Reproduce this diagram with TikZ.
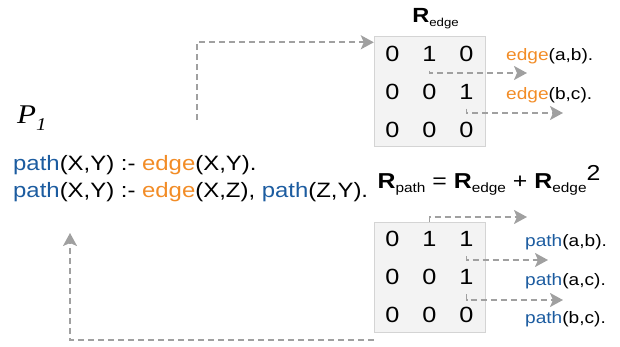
\documentclass[tikz,border=0pt]{standalone}
\usepackage{fontspec}
\setmainfont{Liberation Sans}[FakeStretch=1.15]
\newfontfamily\progfont{Liberation Serif}[FakeStretch=1.15]
\usetikzlibrary{matrix,arrows.meta}
\definecolor{pathblue}{RGB}{28,92,160}
\definecolor{edgeorange}{RGB}{242,140,38}
\definecolor{flowgray}{RGB}{160,160,160}
\definecolor{boxgray}{RGB}{243,243,243}
\definecolor{boxline}{RGB}{212,212,212}
\newcommand{\pathword}{\textcolor{pathblue}{path}}
\newcommand{\edgeword}{\textcolor{edgeorange}{edge}}
\newcommand{\relR}[2][13.4]{\textbf{R}\raisebox{-0.22em}{\fontsize{#1}{#1}\selectfont #2}}

\begin{document}
\begin{tikzpicture}[x=1pt,y=-1pt,
  flow/.style={draw=flowgray, line width=1.8pt, dash pattern=on 6pt off 4pt,
    -{Stealth[length=13pt,width=14pt,inset=3pt]}},
  relmat/.style={matrix of nodes, draw=boxline, fill=boxgray, inner sep=0pt, row sep=4pt,
    nodes={minimum width=37pt, minimum height=34pt, inner sep=0pt, font=\fontsize{22}{22}\selectfont}},
  rule/.style={anchor=base west, inner sep=0pt, font=\fontsize{20.8}{24}\selectfont},
  fact/.style={anchor=base west, inner sep=0pt, font=\fontsize{16.6}{20}\selectfont}]
\useasboundingbox (0,0) rectangle (620,346);

% logic program
\node[anchor=base west, inner sep=0pt, font=\progfont\itshape\fontsize{27}{27}\selectfont] (prog) at (17,123) {P\raisebox{-7pt}{\fontsize{18}{18}\selectfont 1}};
\node[rule] (rule1) at (13,170) {\pathword(X,Y) :- \edgeword(X,Y).};
\node[rule] (rule2) at (13,197) {\pathword(X,Y) :- \edgeword(X,Z), \pathword(Z,Y).};

% edge relation
\node[anchor=base, inner sep=0pt, font=\fontsize{20.5}{21}\selectfont] (tedge) at (435.5,22) {\relR[11.5]{edge}};
\matrix (redge) [relmat] at (429.5,91.5) {0 & 1 & 0\\ 0 & 0 & 1\\ 0 & 0 & 0\\};
\node[fact] (fab) at (506,60) {\edgeword(a,b).};
\node[fact] (fbc) at (506,99) {\edgeword(b,c).};

% path relation
\node[anchor=base, inner sep=0pt, font=\fontsize{21.6}{22}\selectfont] (tpath) at (489,188) {\relR{path} = \relR{edge} + \relR{edge}\raisebox{8pt}{2}};
\matrix (rpath) [relmat] at (429.5,277) {0 & 1 & 1\\ 0 & 0 & 1\\ 0 & 0 & 0\\};
\node[fact] (pab) at (525,246) {\pathword(a,b).};
\node[fact] (pac) at (525,285) {\pathword(a,c).};
\node[fact] (pbc) at (525,323) {\pathword(b,c).};

\coordinate (prog-out) at (197,120);
\coordinate (prog-in) at (70,233);
\coordinate (ab-end) at (527,73);
\coordinate (bc-end) at (563,113);
\coordinate (pab-end) at (527,217);
\coordinate (pac-end) at (548,260);
\coordinate (pbc-end) at (563,300);

\draw[flow] (prog-out) |- ([yshift=-6pt]redge.north west);
\draw[flow] (redge-1-2.south) |- (ab-end);
\draw[flow] (redge-2-3.south) |- (bc-end);
\draw[flow] (rpath-1-2.north) |- (pab-end);
\draw[flow] (rpath-1-3.south) |- (pac-end);
\draw[flow] (rpath-2-3.south) |- (pbc-end);
\draw[flow] ([yshift=-8pt]rpath.south west) -| (prog-in);
\end{tikzpicture}
\end{document}
